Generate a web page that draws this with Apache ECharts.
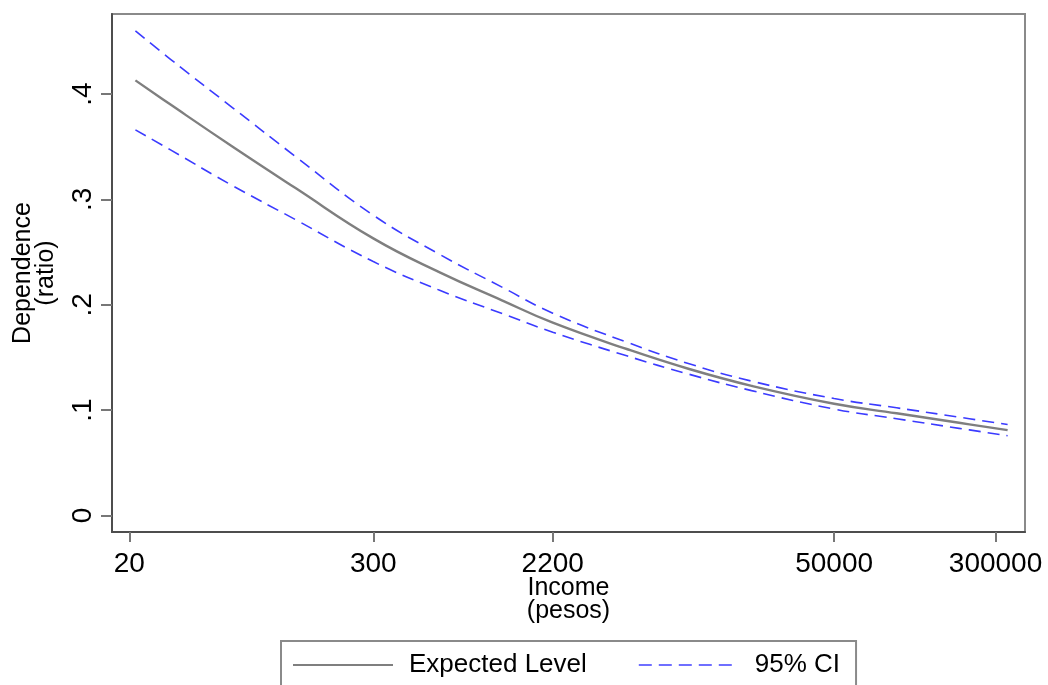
<!DOCTYPE html>
<html>
<head>
<meta charset="utf-8">
<script src="https://cdn.jsdelivr.net/npm/echarts@6/dist/echarts.min.js"></script>
<style>
html,body{margin:0;padding:0;background:#fff;}
#chart{width:1048px;height:685px;}
</style>
</head>
<body>
<div id="chart"></div>
<script>
const incomes = [21.4, 31.6, 63, 126, 300, 631, 1259, 2200, 5000, 10000, 20000, 50000, 100000, 200000, 343000];
const expectedLevel = [0.413, 0.390, 0.350, 0.311, 0.263, 0.2305, 0.204, 0.183, 0.158, 0.139, 0.123, 0.106, 0.097, 0.088, 0.081];
const ciUpper = [0.460, 0.433, 0.387, 0.341, 0.285, 0.2475, 0.2165, 0.192, 0.1645, 0.144, 0.1275, 0.111, 0.1022, 0.0933, 0.0863];
const ciLower = [0.366, 0.347, 0.313, 0.281, 0.241, 0.2135, 0.1915, 0.174, 0.1515, 0.134, 0.1185, 0.101, 0.0918, 0.0827, 0.0757];
const xTickValues = [20, 300, 2200, 50000, 300000];
const yTickValues = [0, 0.1, 0.2, 0.3, 0.4];

const pairs = arr => incomes.map((x, i) => [x, arr[i]]);
const font = '"Liberation Sans", Arial, Helvetica, sans-serif';

const chart = echarts.init(document.getElementById('chart'), null, {renderer: 'canvas'});
chart.setOption({
  backgroundColor: '#ffffff',
  animation: false,
  grid: {
    left: 112, right: 23, top: 14, bottom: 153,
    containLabel: false, outerBoundsMode: 'none',
    show: true, borderColor: '#8a8a8a', borderWidth: 2, backgroundColor: 'transparent'
  },
  xAxis: {
    type: 'log', logBase: 10, min: 16.5, max: 416000,
    name: 'Income\n(pesos)', nameLocation: 'middle', nameGap: 45, nameMoveOverlap: false,
    nameTextStyle: {fontFamily: font, fontSize: 25, color: '#000', lineHeight: 23},
    axisLine: {show: true, onZero: false, lineStyle: {color: '#4d4d4d', width: 2}},
    axisTick: {show: true, inside: false, length: 10, lineStyle: {color: '#777', width: 2}, customValues: xTickValues},
    axisLabel: {show: true, fontFamily: font, fontSize: 28, color: '#000', margin: 18,
      customValues: xTickValues, formatter: v => String(Math.round(v))},
    splitLine: {show: false},
    minorTick: {show: false}
  },
  yAxis: {
    type: 'value', min: -0.0157, max: 0.476,
    name: 'Dependence\n(ratio)', nameLocation: 'middle', nameGap: 54, nameRotate: 90, nameMoveOverlap: false,
    nameTextStyle: {fontFamily: font, fontSize: 25, color: '#000', lineHeight: 23},
    axisLine: {show: true, onZero: false, lineStyle: {color: '#4d4d4d', width: 2}},
    axisTick: {show: true, inside: false, length: 11, lineStyle: {color: '#777', width: 2}, customValues: yTickValues},
    axisLabel: {show: true, fontFamily: font, fontSize: 28, color: '#000', margin: 15, rotate: 90,
      customValues: yTickValues,
      formatter: v => (Math.abs(v) < 1e-9 ? '0' : v.toFixed(1).replace(/^0/, ''))},
    splitLine: {show: false}
  },
  legend: {
    left: 281, top: 641,
    orient: 'horizontal',
    borderColor: '#8a8a8a', borderWidth: 2,
    padding: [11, 16, 40, 11],
    itemWidth: 100, itemHeight: 14, itemGap: 51,
    itemStyle: {opacity: 0, borderWidth: 0},
    textStyle: {fontFamily: font, fontSize: 26, color: '#000', padding: [0, 0, 0, 11]},
    data: [
      {name: 'Expected Level'},
      {name: '95% CI', lineStyle: {type: [13, 7], color: '#6f6fff', width: 2}}
    ]
  },
  series: [
    {
      name: 'Expected Level', type: 'line', data: pairs(expectedLevel),
      symbol: 'none', smooth: 0.45,
      lineStyle: {color: '#7f7f7f', width: 2.4}, itemStyle: {color: '#7f7f7f'}
    },
    {
      name: '95% CI', type: 'line', data: pairs(ciUpper),
      symbol: 'none', smooth: 0.45,
      lineStyle: {color: '#3b3bff', width: 1.6, type: [12, 7]}, itemStyle: {color: '#3b3bff'}
    },
    {
      name: '95% CI', type: 'line', data: pairs(ciLower),
      symbol: 'none', smooth: 0.45,
      lineStyle: {color: '#3b3bff', width: 1.6, type: [12, 7]}, itemStyle: {color: '#3b3bff'}
    }
  ]
});
</script>
</body>
</html>
